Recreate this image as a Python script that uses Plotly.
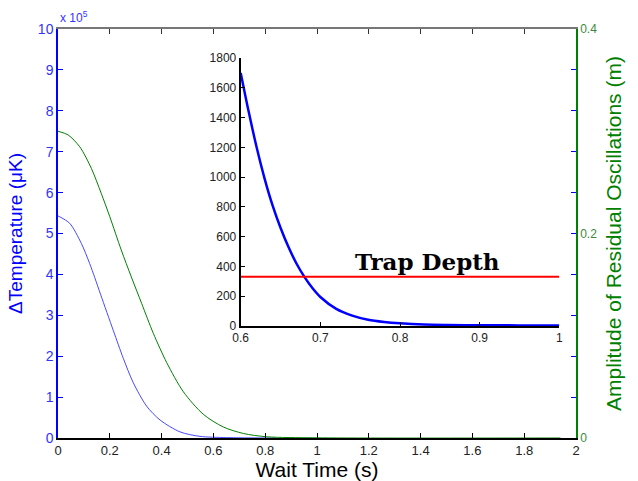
import plotly.graph_objects as go

# Main plot data (temperature in units of 1e5 uK; amplitude in m)
t_temp = [0.0, 0.045, 0.09, 0.122, 0.142, 0.165, 0.214, 0.252, 0.29, 0.342, 0.394, 0.471, 0.548, 0.65, 0.844]
temp = [5.43, 5.25, 4.76, 4.27, 3.92, 3.5, 2.62, 1.95, 1.36, 0.78, 0.44, 0.15, 0.04, 0.01, 0.0]

t_amp = [0.0, 0.039, 0.084, 0.129, 0.167, 0.2, 0.244, 0.283, 0.323, 0.368, 0.42, 0.484, 0.561, 0.638, 0.716, 0.806, 1.0, 1.94]
amp = [0.3, 0.2964, 0.2848, 0.2636, 0.2392, 0.2164, 0.184, 0.1576, 0.1316, 0.1024, 0.0736, 0.0452, 0.0232, 0.0108, 0.0044, 0.0012, 0.0002, 0.0]

# Inset data
t_inset = [0.60, 0.61, 0.62, 0.63, 0.64, 0.65, 0.66, 0.67, 0.68, 0.69, 0.70, 0.72, 0.74, 0.76, 0.78, 0.80, 0.83, 0.86, 0.90, 0.95, 1.00]
temp_inset = [1700, 1440, 1200, 990, 810, 660, 530, 420, 330, 255, 195, 115, 70, 42, 27, 18, 10, 7, 5, 4, 4]
trap_x = [0.6, 1.0]
trap_depth = [330, 330]

main_xticks = [0, 0.2, 0.4, 0.6, 0.8, 1, 1.2, 1.4, 1.6, 1.8, 2]
left_yticks = [0, 1, 2, 3, 4, 5, 6, 7, 8, 9, 10]
right_yticks = [0, 0.2, 0.4]
inset_xticks = [0.6, 0.7, 0.8, 0.9, 1.0]
inset_xticklabels = ["0.6", "0.7", "0.8", "0.9", "1"]
inset_yticks = [0, 200, 400, 600, 800, 1000, 1200, 1400, 1600, 1800]

W, H = 638, 481
def px_x(p):
    return p / W
def px_y(p):
    return 1 - p / H

fig = go.Figure()
fig.add_trace(go.Scatter(x=t_temp, y=temp, mode="lines", line=dict(color="#4848ff", width=1, shape="spline", smoothing=0.8),
                         xaxis="x", yaxis="y", showlegend=False))
fig.add_trace(go.Scatter(x=t_amp, y=amp, mode="lines", line=dict(color="#008000", width=1, shape="spline", smoothing=0.8),
                         xaxis="x", yaxis="y2", showlegend=False))
fig.add_trace(go.Scatter(x=t_inset, y=temp_inset, mode="lines", line=dict(color="#0000ff", width=2.5, shape="spline", smoothing=0.8),
                         xaxis="x3", yaxis="y3", showlegend=False))
fig.add_trace(go.Scatter(x=trap_x, y=trap_depth, mode="lines", line=dict(color="#ff0000", width=2),
                         xaxis="x3", yaxis="y3", showlegend=False))
# invisible helpers to anchor extra axes
fig.add_trace(go.Scatter(x=[None], y=[None], xaxis="x4", yaxis="y", showlegend=False, hoverinfo="skip"))
fig.add_trace(go.Scatter(x=[None], y=[None], xaxis="x", yaxis="y4", showlegend=False, hoverinfo="skip"))

main_xdom = [px_x(58), px_x(576)]
main_ydom = [px_y(438), px_y(29)]
tickfont = dict(family="Arial, Liberation Sans", size=13, color="#222222")

fig.update_layout(
    width=W, height=H,
    margin=dict(l=0, r=0, t=0, b=0, autoexpand=False),
    paper_bgcolor="white", plot_bgcolor="rgba(0,0,0,0)",
    xaxis=dict(domain=main_xdom, range=[0, 2], tickvals=main_xticks, ticks="inside", ticklen=5,
               tickcolor="black", showline=True, linecolor="black", linewidth=1.5, showgrid=False,
               zeroline=False, anchor="y", tickfont=tickfont, automargin=False,
               title=dict(text="Wait Time (s)", font=dict(family="Arial, Liberation Sans", size=21, color="black"), standoff=0)),
    xaxis4=dict(domain=main_xdom, range=[0, 2], tickvals=main_xticks, ticks="inside", ticklen=5,
                tickcolor="#333333", showline=True, linecolor="#777777", linewidth=1.5, showgrid=False,
                zeroline=False, overlaying="x", side="top", showticklabels=False, anchor="y", automargin=False),
    yaxis=dict(domain=main_ydom, range=[0, 10], tickvals=left_yticks, ticks="inside", ticklen=5,
               tickcolor="blue", showline=True, linecolor="blue", linewidth=1.5, showgrid=False,
               zeroline=False, anchor="x", automargin=False,
               tickfont=dict(family="Arial, Liberation Sans", size=14, color="#3333ff"),
               title=dict(text="\u0394Temperature (\u03bcK)", font=dict(family="Arial, Liberation Sans", size=19, color="blue"), standoff=10)),
    yaxis4=dict(domain=main_ydom, range=[0, 10], tickvals=left_yticks, ticks="inside", ticklen=5,
                tickcolor="blue", showline=False, showgrid=False, zeroline=False, automargin=False,
                overlaying="y", side="right", showticklabels=False, anchor="x"),
    yaxis2=dict(domain=main_ydom, range=[0, 0.4], tickvals=right_yticks, ticktext=["0", "0.2", "0.4"],
                ticks="inside", ticklen=4, tickcolor="green", showline=True, linecolor="green", linewidth=1.5,
                showgrid=False, zeroline=False, overlaying="y", side="right", anchor="x", automargin=False,
                tickfont=dict(family="Arial, Liberation Sans", size=12, color="#3a8a3a"),
                title=dict(text="Amplitude of Residual Oscillations (m)", font=dict(family="Arial, Liberation Sans", size=21, color="green"), standoff=10)),
    xaxis3=dict(domain=[px_x(240.7), px_x(559.3)], range=[0.6, 1.0], tickvals=inset_xticks, ticktext=inset_xticklabels,
                ticks="inside", ticklen=4, tickcolor="black", showline=True, linecolor="black", linewidth=2,
                showgrid=False, zeroline=False, anchor="y3", automargin=False,
                tickfont=dict(family="Arial, Liberation Sans", size=12, color="#222222")),
    yaxis3=dict(domain=[px_y(326), px_y(58)], range=[0, 1800], tickvals=inset_yticks,
                ticks="inside", ticklen=4, tickcolor="black", showline=True, linecolor="black", linewidth=2,
                showgrid=False, zeroline=False, anchor="x3", automargin=False,
                tickfont=dict(family="Arial, Liberation Sans", size=12, color="#222222")),
    annotations=[
        dict(text="<b>Trap Depth</b>", x=0.835, y=435, xref="x3", yref="y3", showarrow=False,
             font=dict(family="DejaVu Serif", size=23, color="black"), xanchor="center", yanchor="middle"),
        dict(text="x 10<sup>5</sup>", x=0, y=1, xref="x domain", yref="y domain", showarrow=False,
             xanchor="left", yanchor="bottom", yshift=2,
             font=dict(family="Arial, Liberation Sans", size=12, color="#3333ff")),
    ],
)
fig.write_html("out.html", config={"displayModeBar": False})

# remove the default page margin so the figure sits at the window's top-left corner
with open("out.html", "r", encoding="utf-8") as f:
    html = f.read()
html = html.replace("<head>", "<head><style>html,body{margin:0;padding:0;overflow:hidden;}</style>", 1)
with open("out.html", "w", encoding="utf-8") as f:
    f.write(html)
